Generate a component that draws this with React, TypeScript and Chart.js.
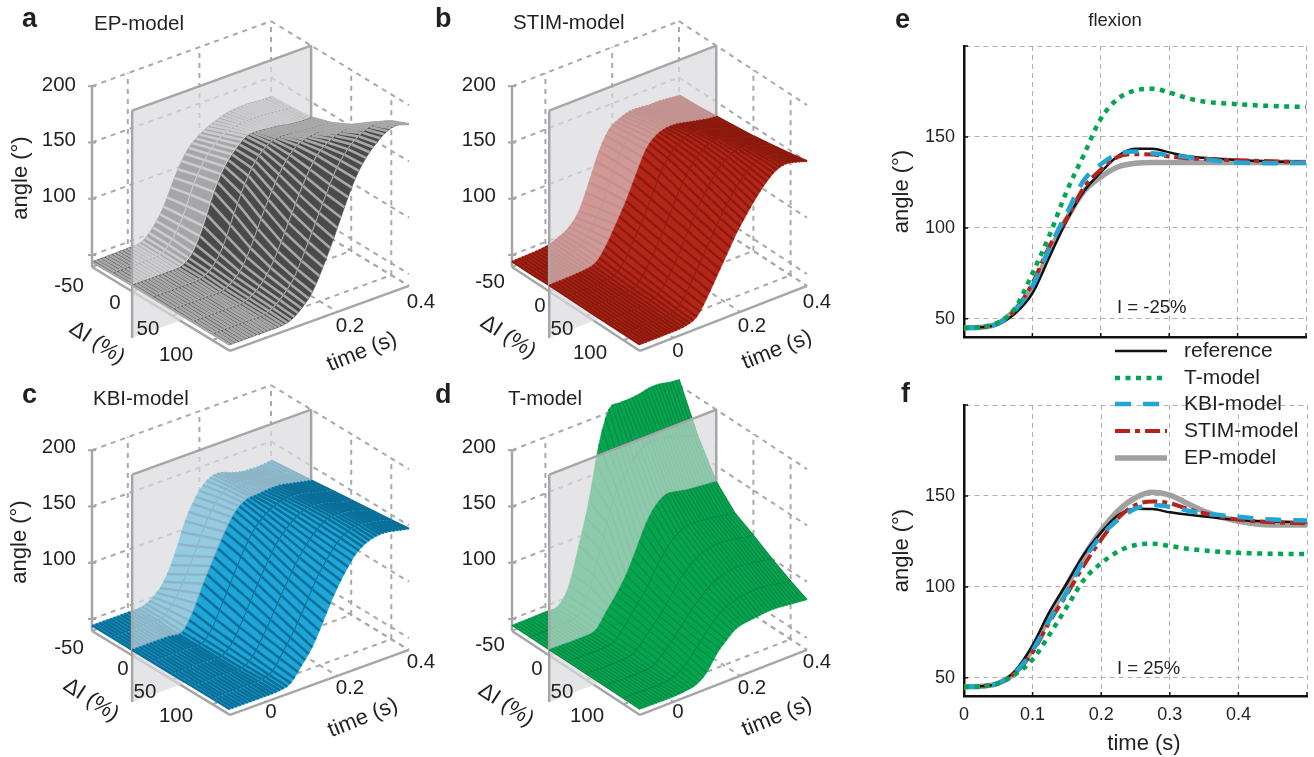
import React, { useEffect, useRef } from "react";
import { Chart, registerables } from "chart.js";

Chart.register(...registerables);

const FONT = '"Liberation Sans", Arial, sans-serif';
const INK = "#231f20";

/* ---------- line panels (e, f) ---------- */
const LINE_T = [0, 0.025, 0.05, 0.075, 0.1, 0.125, 0.15, 0.175, 0.2, 0.225, 0.25, 0.275, 0.3, 0.325, 0.35, 0.4, 0.45, 0.5];

const E_REFERENCE = [45, 45.3, 47, 53, 64, 84, 104, 120, 130.5, 139.5, 143.5, 143.5, 141.5, 139.5, 138.5, 137.3, 136.5, 136];
const E_T_MODEL = [45, 45.5, 48, 56, 75, 96, 120, 140, 160, 171, 175.5, 176.5, 174.5, 171.5, 169.5, 168, 167, 166.5];
const E_KBI = [45, 45.3, 47.5, 55, 68, 89, 108, 126, 135, 140.5, 142, 141, 140, 139, 137.8, 136, 135.6, 135.7];
const E_STIM = [45, 45.3, 47.5, 55, 69.5, 90, 105, 122, 132, 139, 140.5, 140.3, 139.3, 138.3, 137.9, 137.2, 136.6, 136];
const E_EP = [45, 45.3, 47.5, 55, 67, 87, 105, 120, 128, 133.5, 135.5, 136, 136, 136, 136, 136, 136, 136];

const F_REFERENCE = [45, 45.3, 47, 54, 68, 86.5, 102, 118, 130, 139.5, 143, 142.8, 141, 139.8, 138.7, 136.8, 136, 135.5];
const F_T_MODEL = [45, 45.3, 47, 52, 60, 74, 89, 104, 113, 119.5, 123, 123.7, 122.5, 121, 120, 118.7, 118.2, 118];
const F_KBI = [45, 45.3, 47, 53, 65, 82, 97, 115, 128, 137, 143, 145, 144, 142, 140.5, 138.5, 137, 136.5];
const F_STIM = [45, 45.3, 47, 53, 64, 81, 96, 112, 126, 138, 145, 147, 146, 143, 140.5, 137, 135.5, 135];
const F_EP = [45, 45.3, 47, 53, 66, 84.5, 101, 117, 131, 142, 149, 152, 150.5, 146, 141.5, 136, 134, 134];

const SERIES_NAMES = ["reference", "T-model", "KBI-model", "STIM-model", "EP-model"];
const SERIES_COLORS = ["#111111", "#00a651", "#22a5d4", "#b5241b", "#a0a0a0"];
const SERIES_WIDTHS = [2.5, 4.5, 4.5, 4, 5.5];
const SERIES_DASHES = [[], [5, 5.5], [16, 12], [15, 5, 5, 5], []];
const SERIES_ORDER = [3, 0, 1, 2, 4];
const ANGLE_AXIS_TICKS = [50, 100, 150, 200];

/* ---------- surface panels (a-d) ---------- */
const SURF_DI = [-50, -25, 0, 25, 50, 75, 100, 122];
const SURF_T = [-0.1, 0, 0.04, 0.07, 0.1, 0.13, 0.16, 0.19, 0.22, 0.25, 0.28, 0.31, 0.34, 0.37, 0.4];

const EP_SURFACE = [
  [44, 44.5, 46, 55, 70, 92, 110, 120, 126, 130, 133, 134, 134, 133, 133],
  [44.5, 45, 46, 55, 72, 97, 115, 126, 133, 136, 137, 137, 136, 135, 134],
  [45, 45, 46, 54, 74, 101, 120, 132, 140, 141, 140, 139, 137, 136, 136],
  [45, 45, 46, 52, 67, 92, 115, 132, 142, 146, 146, 145, 144, 143, 142],
  [45, 45, 45, 50, 61, 81, 104, 124, 140, 150, 154, 155, 154, 152, 151],
  [45, 45, 45, 49, 58, 73, 94, 116, 136, 152, 160, 165, 166, 165, 164],
  [45, 45, 45, 48, 56, 68, 88, 110, 132, 152, 165, 173, 178, 178, 176],
  [45, 45, 45, 47, 54, 65, 84, 106, 130, 152, 167, 177, 184, 186, 183],
];
const STIM_SURFACE = [
  [44.5, 46, 50, 55, 66, 88, 112, 128, 134, 137, 137, 136, 136, 135, 134],
  [44.5, 46, 50, 58, 71, 91, 113, 130, 138, 141, 141, 139, 138, 136, 135],
  [45, 46, 49, 60, 76, 93, 113, 132, 141, 144, 144, 142, 140, 138, 137],
  [45, 45.5, 48, 57, 73, 90, 110, 129, 140, 146, 148, 147, 144, 141, 139],
  [45, 45.5, 47, 55, 70, 87, 106, 124, 138, 146, 150, 150, 147, 144, 141],
  [45, 45, 47, 53, 67, 84, 102, 119, 133, 144, 150, 152, 151, 147, 144],
  [45, 45, 46, 51, 65, 81, 98, 114, 128, 140, 148, 153, 153, 150, 147],
  [45, 45, 46, 50, 63, 79, 95, 111, 124, 136, 146, 153, 155, 153, 150],
];
const KBI_SURFACE = [
  [44.5, 44.5, 45, 50, 60, 80, 107, 125, 136, 139, 136, 133, 132, 132, 133],
  [44.5, 44.5, 45, 54, 70, 90, 113, 130, 139, 141, 140, 138, 137, 135, 135],
  [44.5, 44.5, 44, 58, 80, 100, 119, 134, 141, 142, 143, 143, 141, 139, 137],
  [44.5, 44.5, 44, 55, 75, 95, 115, 130, 139, 144, 146, 146, 144, 141, 139],
  [44.5, 44.5, 44, 53, 70, 90, 108, 125, 136, 144, 148, 148, 146, 143, 141],
  [44.5, 44.5, 44, 51, 66, 84, 102, 119, 133, 143, 149, 150, 149, 146, 143],
  [44.5, 44.5, 45, 49, 63, 78, 96, 115, 130, 142, 149, 151, 150, 148, 145],
  [44.5, 44.5, 45, 48, 60, 73, 92, 112, 128, 141, 148, 151, 151, 149, 147],
];
const T_SURFACE = [
  [44.5, 45, 46, 60, 92, 128, 175, 203, 205, 205, 206, 208, 208, 206, 205],
  [44.5, 45, 47, 60, 88, 119, 145, 158, 170, 176, 176, 175, 172, 169, 166],
  [44.5, 44, 46, 58, 70, 84, 103, 123, 136, 142, 141, 139, 138, 137, 136],
  [44.5, 44, 46, 56, 68, 79, 94, 108, 118, 123, 124, 123, 122, 120, 119],
  [44.5, 44, 46, 54, 64, 74, 87, 99, 107, 112, 114, 114, 113, 111, 110],
  [44.5, 44, 45, 52, 61, 71, 82, 91, 98, 102, 104, 104, 103, 101, 100],
  [44.5, 44, 45, 49, 57, 68, 78, 87, 91, 94, 95, 95, 94, 92, 91],
  [44.5, 44, 45, 47, 54, 67, 76, 83, 85, 86, 87, 87, 86, 85, 84],
];

const ANGLE_TICKS = [200, 150, 100, 50];
const WALL_T_TICKS = [0, 0.2, 0.4];
const WALL_DI_TICKS = [0, 50, 100];

type Label = { s: string; x: number; y: number; font?: string; rot?: number; align?: any };

type Panel = {
  left: number; top: number; w: number; h: number;
  ox: number; oy: number; kd: number; kt: number;
  surface: number[][];
  face: string; edge: string; edgeW: number; row: string; rowW: number;
  labels: Label[];
};

const TICK = `20.5px ${FONT}`;
const BOLD = `bold 27px ${FONT}`;
const TITLE = `20.5px ${FONT}`;
const AXIS = `22px ${FONT}`;

const PANELS: Panel[] = [
  {
    left: 0, top: 0, w: 442, h: 372, ox: 92, oy: 267, kd: 0.802, kt: 358, surface: EP_SURFACE,
    face: "#4a4a4a", edge: "#a8a8a8", edgeW: 2.6, row: "#b4b4b4", rowW: 2.5,
    labels: [
      { s: "a", x: 22, y: 20, font: BOLD, align: "left" },
      { s: "EP-model", x: 94, y: 24, font: TITLE, align: "left" },
      { s: "200", x: 76, y: 85, align: "right" }, { s: "150", x: 76, y: 140, align: "right" }, { s: "100", x: 76, y: 196, align: "right" },
      { s: "-50", x: 69, y: 286 }, { s: "0", x: 115, y: 303 }, { s: "50", x: 148, y: 329 }, { s: "100", x: 176, y: 355 },
      { s: "0.2", x: 350, y: 326 }, { s: "0.4", x: 421, y: 302 },
      { s: "time (s)", x: 362, y: 352, font: AXIS, rot: -22 },
      { s: "ΔI (%)", x: 97, y: 343, font: AXIS, rot: 33 },
      { s: "angle (°)", x: 21, y: 178, font: AXIS, rot: -90 },
    ],
  },
  {
    left: 430, top: 0, w: 450, h: 372, ox: 512, oy: 267, kd: 0.744, kt: 334, surface: STIM_SURFACE,
    face: "#b5261a", edge: "#8c1a0e", edgeW: 2.3, row: "#84170c", rowW: 2,
    labels: [
      { s: "b", x: 435, y: 20, font: BOLD, align: "left" },
      { s: "STIM-model", x: 513, y: 23, font: TITLE, align: "left" },
      { s: "200", x: 496, y: 85, align: "right" }, { s: "150", x: 496, y: 140, align: "right" }, { s: "100", x: 496, y: 196, align: "right" },
      { s: "-50", x: 490, y: 282 }, { s: "0", x: 540, y: 306 }, { s: "50", x: 562, y: 329 }, { s: "100", x: 590, y: 353 },
      { s: "0", x: 678, y: 351 }, { s: "0.2", x: 752, y: 326 }, { s: "0.4", x: 817, y: 302 },
      { s: "time (s)", x: 777, y: 350, font: AXIS, rot: -22 },
      { s: "ΔI (%)", x: 508, y: 337, font: AXIS, rot: 33 },
    ],
  },
  {
    left: 0, top: 372, w: 442, h: 385, ox: 92, oy: 631, kd: 0.802, kt: 358, surface: KBI_SURFACE,
    face: "#1ea6d8", edge: "#0b6f98", edgeW: 2.5, row: "#0b678d", rowW: 2.4,
    labels: [
      { s: "c", x: 22, y: 396, font: BOLD, align: "left" },
      { s: "KBI-model", x: 93, y: 399, font: TITLE, align: "left" },
      { s: "200", x: 76, y: 447, align: "right" }, { s: "150", x: 76, y: 503, align: "right" }, { s: "100", x: 76, y: 559, align: "right" },
      { s: "-50", x: 69, y: 648 }, { s: "0", x: 123, y: 669 }, { s: "50", x: 145, y: 692 }, { s: "100", x: 176, y: 716 },
      { s: "0", x: 271, y: 712 }, { s: "0.2", x: 350, y: 688 }, { s: "0.4", x: 421, y: 662 },
      { s: "time (s)", x: 363, y: 718, font: AXIS, rot: -22 },
      { s: "ΔI (%)", x: 91, y: 700, font: AXIS, rot: 33 },
      { s: "angle (°)", x: 20, y: 542, font: AXIS, rot: -90 },
    ],
  },
  {
    left: 430, top: 372, w: 450, h: 385, ox: 512, oy: 631, kd: 0.744, kt: 334, surface: T_SURFACE,
    face: "#05a550", edge: "#0a8a45", edgeW: 1.2, row: "#08733a", rowW: 1.6,
    labels: [
      { s: "d", x: 435, y: 396, font: BOLD, align: "left" },
      { s: "T-model", x: 508, y: 399, font: TITLE, align: "left" },
      { s: "200", x: 496, y: 447, align: "right" }, { s: "150", x: 496, y: 503, align: "right" }, { s: "100", x: 496, y: 559, align: "right" },
      { s: "-50", x: 490, y: 645 }, { s: "0", x: 537, y: 669 }, { s: "50", x: 562, y: 692 }, { s: "100", x: 587, y: 716 },
      { s: "0", x: 678, y: 712 }, { s: "0.2", x: 752, y: 688 }, { s: "0.4", x: 817, y: 662 },
      { s: "time (s)", x: 777, y: 717, font: AXIS, rot: -22 },
      { s: "ΔI (%)", x: 506, y: 705, font: AXIS, rot: 33 },
    ],
  },
];

const FLOOR = 39.4;
const T_MIN = SURF_T[0];
const T_MAX = SURF_T[SURF_T.length - 1];
const DI_MIN = SURF_DI[0];
const DI_MAX = SURF_DI[SURF_DI.length - 1];

function project(p: Panel, t: number, d: number, a: number) {
  return {
    x: p.ox + p.kd * (d - DI_MIN) + p.kt * (t - T_MIN),
    y: p.oy + 0.488 * (d - DI_MIN) - 130 * (t - T_MIN) - 1.126 * (a - FLOOR),
  };
}

// Smooth read-out of one typed row between its typed columns, used for the surface facets.
function angleAt(vals: number[], t: number) {
  const n = SURF_T.length;
  for (let i = 1; i < n; i++) {
    if (t <= SURF_T[i] + 1e-9) {
      const t0 = SURF_T[i - 1];
      const t1 = SURF_T[i];
      const h = t1 - t0;
      const s = (t - t0) / h;
      const slope = (k: number) =>
        k <= 0 || k >= n - 1
          ? (vals[Math.min(k + 1, n - 1)] - vals[Math.max(k - 1, 0)]) / (SURF_T[Math.min(k + 1, n - 1)] - SURF_T[Math.max(k - 1, 0)])
          : (vals[k + 1] - vals[k - 1]) / (SURF_T[k + 1] - SURF_T[k - 1]);
      const m0 = slope(i - 1) * h;
      const m1 = slope(i) * h;
      const s2 = s * s;
      const s3 = s2 * s;
      return (2 * s3 - 3 * s2 + 1) * vals[i - 1] + (s3 - 2 * s2 + s) * m0 + (-2 * s3 + 3 * s2) * vals[i] + (s3 - s2) * m1;
    }
  }
  return vals[n - 1];
}

function surfacePlugin(p: Panel) {
  const zeroRow = SURF_DI.indexOf(0);
  const STEPS = 50;
  const px = (chart: any, q: { x: number; y: number }) => [chart.scales.x.getPixelForValue(q.x), chart.scales.y.getPixelForValue(q.y)];
  const seg = (chart: any, ctx: any, a: any, b: any) => {
    const [x0, y0] = px(chart, a);
    const [x1, y1] = px(chart, b);
    ctx.beginPath();
    ctx.moveTo(x0, y0);
    ctx.lineTo(x1, y1);
    ctx.stroke();
  };
  const poly = (chart: any, ctx: any, pts: any[]) => {
    ctx.beginPath();
    pts.forEach((q, i) => {
      const [x, y] = px(chart, q);
      if (i) ctx.lineTo(x, y);
      else ctx.moveTo(x, y);
    });
    ctx.closePath();
  };
  const planePts = () => [
    project(p, T_MIN, 0, -2),
    project(p, T_MAX, 0, -2),
    project(p, T_MAX, 0, 200),
    project(p, T_MIN, 0, 200),
  ];
  return {
    id: "surface",
    beforeDatasetsDraw(chart: any) {
      const ctx = chart.ctx;
      ctx.save();
      poly(chart, ctx, planePts());
      ctx.fillStyle = "rgb(231,230,232)";
      ctx.fill();
      // dashed box grid
      ctx.strokeStyle = "#a9a9a9";
      ctx.lineWidth = 2;
      ctx.setLineDash([5, 5]);
      for (const a of ANGLE_TICKS) {
        seg(chart, ctx, project(p, T_MIN, DI_MIN, a), project(p, T_MAX, DI_MIN, a));
        seg(chart, ctx, project(p, T_MAX, DI_MIN, a), project(p, T_MAX, DI_MAX, a));
      }
      for (const t of WALL_T_TICKS) {
        seg(chart, ctx, project(p, t, DI_MIN, FLOOR), project(p, t, DI_MIN, 200));
        seg(chart, ctx, project(p, t, DI_MIN, FLOOR), project(p, t, DI_MAX, FLOOR));
      }
      for (const d of WALL_DI_TICKS) {
        seg(chart, ctx, project(p, T_MAX, d, FLOOR), project(p, T_MAX, d, 200));
        seg(chart, ctx, project(p, T_MIN, d, FLOOR), project(p, T_MAX, d, FLOOR));
      }
      seg(chart, ctx, project(p, T_MIN, DI_MIN, FLOOR), project(p, T_MAX, DI_MIN, FLOOR));
      seg(chart, ctx, project(p, T_MAX, DI_MIN, FLOOR), project(p, T_MAX, DI_MAX, FLOOR));
      // solid axes
      ctx.setLineDash([]);
      ctx.strokeStyle = "#a6a6a6";
      ctx.lineWidth = 2.5;
      seg(chart, ctx, project(p, T_MIN, DI_MIN, FLOOR), project(p, T_MIN, DI_MIN, 200));
      seg(chart, ctx, project(p, T_MIN, DI_MIN, FLOOR), project(p, T_MIN, DI_MAX, FLOOR));
      seg(chart, ctx, project(p, T_MIN, DI_MAX, FLOOR), project(p, T_MAX, DI_MAX, FLOOR));
      ctx.lineWidth = 2;
      for (const a of ANGLE_TICKS) {
        const q = project(p, T_MIN, DI_MIN, a);
        seg(chart, ctx, { x: q.x - 4, y: q.y }, { x: q.x + 4, y: q.y });
      }
      ctx.restore();
    },
    beforeDatasetDraw(chart: any, args: any) {
      const i = args.index;
      const ctx = chart.ctx;
      ctx.save();
      if (i === zeroRow + 1) {
        poly(chart, ctx, planePts());
        ctx.fillStyle = "rgba(228,228,232,0.6)";
        ctx.fill();
        const [a, b, c, d] = planePts();
        ctx.strokeStyle = "#a6a6a6";
        ctx.lineWidth = 2.5;
        seg(chart, ctx, a, d);
        seg(chart, ctx, d, c);
        seg(chart, ctx, c, b);
      }
      if (i > 0) {
        const r0 = p.surface[i - 1];
        const r1 = p.surface[i];
        const d0 = SURF_DI[i - 1];
        const d1 = SURF_DI[i];
        for (let k = STEPS; k > 0; k--) {
          const tHi = T_MIN + (k * (T_MAX - T_MIN)) / STEPS;
          const tLo = T_MIN + ((k - 1) * (T_MAX - T_MIN)) / STEPS;
          const a = project(p, tHi, d0, angleAt(r0, tHi));
          const b = project(p, tHi, d1, angleAt(r1, tHi));
          const c = project(p, tLo, d1, angleAt(r1, tLo));
          const e = project(p, tLo, d0, angleAt(r0, tLo));
          poly(chart, ctx, [a, b, c, e]);
          ctx.fillStyle = p.face;
          ctx.strokeStyle = p.face;
          ctx.lineWidth = 0.6;
          ctx.fill();
          ctx.stroke();
          ctx.strokeStyle = p.edge;
          ctx.lineWidth = p.edgeW;
          seg(chart, ctx, a, b);
          if (k === 1) seg(chart, ctx, e, c);
        }
      }
      ctx.restore();
    },
    afterDatasetsDraw(chart: any) {
      const ctx = chart.ctx;
      ctx.save();
      ctx.fillStyle = INK;
      ctx.textBaseline = "middle";
      for (const l of p.labels) {
        const [x, y] = px(chart, l);
        ctx.save();
        ctx.translate(x, y);
        if (l.rot) ctx.rotate((l.rot * Math.PI) / 180);
        ctx.font = l.font || TICK;
        ctx.textAlign = l.align || "center";
        ctx.fillText(l.s, 0, 0);
        ctx.restore();
      }
      ctx.restore();
    },
  };
}

function surfaceConfig(p: Panel): any {
  const datasets = p.surface.map((vals, i) => ({
    label: `ΔI ${SURF_DI[i]}`,
    data: SURF_T.map((t, j) => project(p, t, SURF_DI[i], vals[j])),
    showLine: true,
    pointRadius: 0,
    borderColor: i === 0 || i === SURF_DI.length - 1 ? "rgba(0,0,0,0)" : p.row,
    borderWidth: p.rowW,
    tension: 0.3,
    order: SURF_DI.length - i,
    clip: false,
  }));
  return {
    type: "scatter",
    data: { datasets },
    options: {
      animation: false,
      responsive: false,
      layout: { padding: 0 },
      plugins: { legend: { display: false }, tooltip: { enabled: false } },
      scales: {
        x: { type: "linear", display: false, min: p.left, max: p.left + p.w },
        y: { type: "linear", display: false, reverse: true, min: p.top, max: p.top + p.h },
      },
    },
    plugins: [surfacePlugin(p)],
  };
}

type LineSpec = {
  left: number; top: number; w: number; h: number;
  padTop: number; padRight: number; yWidth: number; xHeight: number;
  values: number[][];
  showX: boolean;
  texts: Label[];
  legend: boolean;
};

const LEGEND_ROWS = [351, 378, 404, 431, 458];

const LINE_PANELS: LineSpec[] = [
  {
    left: 880, top: 0, w: 434, h: 340, padTop: 46, padRight: 8, yWidth: 84, xHeight: 3,
    values: [E_REFERENCE, E_T_MODEL, E_KBI, E_STIM, E_EP], showX: false, legend: false,
    texts: [
      { s: "e", x: 895, y: 21, font: BOLD, align: "left" },
      { s: "flexion", x: 1115, y: 21, font: `18.5px ${FONT}` },
      { s: "I = -25%", x: 1117, y: 308, font: `18.5px ${FONT}`, align: "left" },
    ],
  },
  {
    left: 880, top: 340, w: 434, h: 417, padTop: 65, padRight: 7, yWidth: 84, xHeight: 61,
    values: [F_REFERENCE, F_T_MODEL, F_KBI, F_STIM, F_EP], showX: true, legend: true,
    texts: [
      { s: "f", x: 901, y: 395, font: BOLD, align: "left" },
      { s: "I = 25%", x: 1117, y: 669, font: `18.5px ${FONT}`, align: "left" },
      { s: "time (s)", x: 1144, y: 744, font: AXIS },
    ],
  },
];

function linePlugin(spec: LineSpec) {
  return {
    id: "lineExtras",
    afterDatasetsDraw(chart: any) {
      const ctx = chart.ctx;
      const { x, y } = chart.scales;
      const area = chart.chartArea;
      ctx.save();
      ctx.strokeStyle = "#111";
      ctx.lineWidth = 1.5;
      ctx.beginPath();
      for (const t of x.ticks) {
        const px = x.getPixelForValue(t.value);
        ctx.moveTo(px, area.bottom);
        ctx.lineTo(px, area.bottom - 4);
      }
      for (const t of y.ticks) {
        const py = y.getPixelForValue(t.value);
        ctx.moveTo(area.left, py);
        ctx.lineTo(area.left + 4, py);
      }
      ctx.stroke();
      ctx.fillStyle = INK;
      ctx.textBaseline = "middle";
      for (const l of spec.texts) {
        ctx.font = l.font || TICK;
        ctx.textAlign = l.align || "center";
        ctx.fillText(l.s, l.x - spec.left, l.y - spec.top);
      }
      if (spec.legend) {
        chart.data.datasets.forEach((ds: any, i: number) => {
          const ly = LEGEND_ROWS[i] - spec.top;
          ctx.save();
          ctx.strokeStyle = ds.borderColor;
          ctx.lineWidth = ds.borderWidth;
          ctx.setLineDash(ds.borderDash);
          ctx.beginPath();
          ctx.moveTo(1115 - spec.left, ly);
          ctx.lineTo(1167 - spec.left, ly);
          ctx.stroke();
          ctx.restore();
          ctx.font = `21px ${FONT}`;
          ctx.textAlign = "left";
          ctx.fillText(ds.label, 1184 - spec.left, ly);
        });
      }
      ctx.restore();
    },
  };
}

function lineConfig(spec: LineSpec): any {
  const datasets = SERIES_NAMES.map((name, i) => ({
    label: name,
    data: LINE_T.map((t, j) => ({ x: t, y: spec.values[i][j] })),
    showLine: true,
    pointRadius: 0,
    borderColor: SERIES_COLORS[i],
    borderWidth: SERIES_WIDTHS[i],
    borderDash: SERIES_DASHES[i],
    cubicInterpolationMode: "monotone",
    order: SERIES_ORDER[i],
  }));
  const tickFont = { family: FONT, size: 18 };
  return {
    type: "scatter",
    data: { datasets },
    options: {
      animation: false,
      responsive: false,
      layout: { padding: { top: spec.padTop, right: spec.padRight, left: 0, bottom: 0 } },
      plugins: { legend: { display: false }, tooltip: { enabled: false } },
      scales: {
        x: {
          type: "linear", min: 0, max: 0.5,
          afterFit: (s: any) => { s.height = spec.xHeight; s.paddingLeft = 0; s.paddingRight = 0; },
          grid: { color: "#b0b0b0", lineWidth: 1, drawTicks: false },
          border: { color: "#111", width: 2.5, dash: [5, 4] },
          ticks: {
            display: spec.showX, stepSize: 0.1, color: INK, font: tickFont, padding: 8, maxRotation: 0,
            callback: (v: number) => (Math.abs(v - 0.5) < 1e-6 ? "" : Math.abs(v) < 1e-6 ? "0" : Number(v).toFixed(1)),
          },
        },
        y: {
          type: "linear", min: 40, max: 200,
          afterBuildTicks: (s: any) => { s.ticks = ANGLE_AXIS_TICKS.map((value) => ({ value })); },
          afterFit: (s: any) => { s.width = spec.yWidth; s.paddingTop = 0; s.paddingBottom = 0; },
          grid: { color: "#b0b0b0", lineWidth: 1, drawTicks: false },
          border: { color: "#111", width: 2.5, dash: [5, 4] },
          title: { display: true, text: "angle (°)", color: INK, font: { family: FONT, size: 22 }, padding: { top: 9, bottom: 0 } },
          ticks: {
            color: INK, font: tickFont, padding: 9,
            callback: (v: number) => ([50, 100, 150].includes(v) ? String(v) : ""),
          },
        },
      },
    },
    plugins: [linePlugin(spec)],
  };
}

export default function App() {
  const surfaceRefs = useRef<(HTMLCanvasElement | null)[]>([]);
  const lineRefs = useRef<(HTMLCanvasElement | null)[]>([]);

  useEffect(() => {
    const charts: Chart[] = [];
    PANELS.forEach((p, i) => charts.push(new Chart(surfaceRefs.current[i] as any, surfaceConfig(p))));
    LINE_PANELS.forEach((s, i) => charts.push(new Chart(lineRefs.current[i] as any, lineConfig(s))));
    return () => charts.forEach((c) => c.destroy());
  }, []);

  const style = (o: { left: number; top: number; w: number; h: number }): React.CSSProperties => ({
    position: "absolute", left: o.left, top: o.top, width: o.w, height: o.h, display: "block",
  });

  return (
    <div style={{ position: "fixed", left: 0, top: 0, width: 1314, height: 757, background: "#fff", overflow: "hidden" }}>
      {PANELS.map((p, i) => (
        <canvas key={i} ref={(el) => { surfaceRefs.current[i] = el; }} width={p.w} height={p.h} style={style(p)} />
      ))}
      {LINE_PANELS.map((s, i) => (
        <canvas key={i} ref={(el) => { lineRefs.current[i] = el; }} width={s.w} height={s.h} style={style(s)} />
      ))}
    </div>
  );
}
